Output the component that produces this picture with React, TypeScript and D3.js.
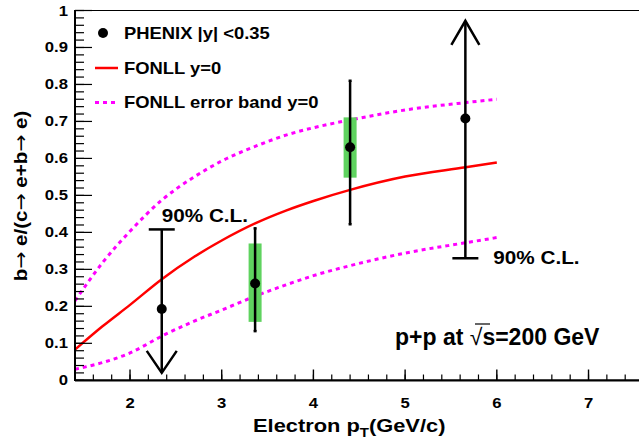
import React from "react";
import * as d3 from "d3";

// data
const ptGrid = [1.4, 1.7, 2.0, 2.35, 2.7, 3.0, 3.37, 3.7, 4.0, 4.4, 5.0, 5.66, 6.0];
const fonllCentral = [0.083, 0.146, 0.204, 0.274, 0.334, 0.378, 0.425, 0.459, 0.485, 0.515, 0.551, 0.576, 0.589];
const fonllUpper = [0.215, 0.318, 0.403, 0.488, 0.55, 0.593, 0.633, 0.663, 0.683, 0.704, 0.731, 0.751, 0.76];
const fonllLower = [0.03, 0.048, 0.074, 0.12, 0.16, 0.19, 0.228, 0.258, 0.283, 0.31, 0.344, 0.372, 0.386];

const dataPt = [2.346, 3.364, 4.4, 5.657];
const dataVal = [0.193, 0.262, 0.63, 0.708];
const statLow = [0.02, 0.133, 0.422, 0.33];
const statHigh = [0.408, 0.411, 0.81, 0.972];
const sysLow = [null, 0.158, 0.548, null];
const sysHigh = [null, 0.37, 0.711, null];
// "upper" = 90% CL upper limit (arrow down), "lower" = arrow up
const limitType = ["upper", "none", "none", "lower"];

const xTicks = [2, 3, 4, 5, 6, 7];
const yTicks = [0, 0.1, 0.2, 0.3, 0.4, 0.5, 0.6, 0.7, 0.8, 0.9, 1];

const W = 639;
const H = 444;
const FONT = "'Liberation Sans', Arial, Helvetica, sans-serif";
const SX = 1.15; // the original glyphs are a bit wider than Liberation's

// text stretched a little horizontally
function T(props: { x: number; y: number; size: number; anchor?: string; children: any }) {
  return (
    <text
      transform={`translate(${props.x},${props.y}) scale(${SX},1)`}
      fontSize={props.size}
      textAnchor={props.anchor || "start"}
    >
      {props.children}
    </text>
  );
}

export default function App() {
  const x = d3.scaleLinear().domain([1.4, 8]).range([75, 75 + 6.6 * 91.7]);
  const y = d3.scaleLinear().domain([0, 1]).range([380.3, 10.5]);

  const line = d3
    .line<number>()
    .x((d, i) => x(ptGrid[i]))
    .y((d) => y(d))
    .curve(d3.curveMonotoneX);

  const xMinor = d3.range(1.4, 8.001, 0.2).filter((v) => v > 1.41);
  const yMinor = d3.range(0, 1.0001, 0.02);

  const red = "#ff0000";
  const magenta = "#ff00ff";
  const arrowFont = "'DejaVu Sans', sans-serif";

  return (
    <svg
      width={W}
      height={H}
      style={{ position: "absolute", left: 0, top: 0, background: "#fff" }}
      fontFamily={FONT}
      fontWeight="bold"
    >
      {/* frame */}
      <line x1={75} x2={W} y1={10.5} y2={10.5} stroke="#000" strokeWidth={1.2} />

      {/* curves */}
      <path d={line(fonllUpper) || ""} fill="none" stroke={magenta} strokeWidth={3} strokeDasharray="4 4" />
      <path d={line(fonllLower) || ""} fill="none" stroke={magenta} strokeWidth={3} strokeDasharray="4 4" />
      <path d={line(fonllCentral) || ""} fill="none" stroke={red} strokeWidth={2.5} />

      {/* systematic boxes */}
      {dataPt.map((p, i) =>
        sysLow[i] != null ? (
          <rect
            key={"s" + i}
            x={x(p) - 6.5}
            width={13}
            y={y(sysHigh[i] as number)}
            height={y(sysLow[i] as number) - y(sysHigh[i] as number)}
            fill="#5fd35f"
          />
        ) : null
      )}

      {/* data points */}
      {dataPt.map((p, i) => {
        const cx = x(p);
        const t = limitType[i];
        return (
          <g key={"p" + i} stroke="#000" strokeWidth={2.5} fill="none">
            <line x1={cx} x2={cx} y1={y(statLow[i])} y2={y(statHigh[i])} />
            {t === "upper" && (
              <>
                <line x1={cx - 13} x2={cx + 13} y1={y(statHigh[i])} y2={y(statHigh[i])} />
                <polyline points={`${cx - 15},${y(statLow[i]) - 22} ${cx},${y(statLow[i])} ${cx + 15},${y(statLow[i]) - 22}`} />
              </>
            )}
            {t === "lower" && (
              <>
                <line x1={cx - 13} x2={cx + 13} y1={y(statLow[i])} y2={y(statLow[i])} />
                <polyline points={`${cx - 14},${y(statHigh[i]) + 24} ${cx},${y(statHigh[i])} ${cx + 14},${y(statHigh[i]) + 24}`} />
              </>
            )}
            {t === "none" && (
              <>
                <line x1={cx - 1.5} x2={cx + 1.5} y1={y(statLow[i])} y2={y(statLow[i])} />
                <line x1={cx - 1.5} x2={cx + 1.5} y1={y(statHigh[i])} y2={y(statHigh[i])} />
              </>
            )}
            <circle cx={cx} cy={y(dataVal[i])} r={5} fill="#000" stroke="none" />
          </g>
        );
      })}

      {/* 90% CL labels */}
      <T x={x(dataPt[0])} y={222} size={18}>90% C.L.</T>
      <T x={x(dataPt[3]) + 28} y={264} size={18}>90% C.L.</T>

      {/* y axis */}
      <line x1={75} x2={75} y1={10} y2={381} stroke="#000" strokeWidth={2} />
      {yMinor.map((v, i) => (
        <line key={"ym" + i} x1={75} x2={84} y1={y(v)} y2={y(v)} stroke="#000" strokeWidth={1.2} />
      ))}
      {yTicks.map((v) => (
        <g key={"yt" + v}>
          <line x1={75} x2={92} y1={y(v)} y2={y(v)} stroke="#000" strokeWidth={1.2} />
          <T x={68} y={y(v) + 5} size={14.5} anchor="end">
            {d3.format("")(v)}
          </T>
        </g>
      ))}

      {/* x axis */}
      <line x1={75} x2={W} y1={380.3} y2={380.3} stroke="#000" strokeWidth={2.2} />
      {xMinor.map((v, i) => (
        <line key={"xm" + i} x1={x(v)} x2={x(v)} y1={380} y2={374.5} stroke="#000" strokeWidth={1.2} />
      ))}
      {xTicks.map((v) => (
        <g key={"xt" + v}>
          <line x1={x(v)} x2={x(v)} y1={380} y2={369.5} stroke="#000" strokeWidth={1.4} />
          <T x={x(v)} y={408} size={14.5} anchor="middle">
            {v}
          </T>
        </g>
      ))}

      {/* axis titles */}
      <T x={253} y={432} size={19}>
        Electron p<tspan dy={5} fontSize={13}>T</tspan>
        <tspan dy={-5}>(GeV/c)</tspan>
      </T>
      <text transform="translate(27,196) rotate(-90) scale(1.08,1)" fontSize={19} textAnchor="middle">
        b<tspan fontFamily={arrowFont} fontWeight="normal">→</tspan> e/(c<tspan fontFamily={arrowFont} fontWeight="normal">→</tspan> e+b<tspan fontFamily={arrowFont} fontWeight="normal">→</tspan> e)
      </text>

      {/* legend */}
      <circle cx={103} cy={33} r={5} fill="#000" />
      <T x={124} y={39} size={16}>PHENIX |y| &lt;0.35</T>
      <line x1={95} x2={118} y1={68} y2={68} stroke={red} strokeWidth={2.5} />
      <T x={124} y={74} size={16}>FONLL y=0</T>
      <line x1={95} x2={118} y1={102.5} y2={102.5} stroke={magenta} strokeWidth={3} strokeDasharray="4 4" />
      <T x={124} y={108} size={16}>FONLL error band y=0</T>

      {/* energy label */}
      <text x={395} y={345} fontSize={23}>
        p+p at<tspan fontWeight="normal"> √</tspan>s=200 GeV
      </text>
      <line x1={475} x2={490} y1={324} y2={324} stroke="#000" strokeWidth={1.2} />
    </svg>
  );
}
